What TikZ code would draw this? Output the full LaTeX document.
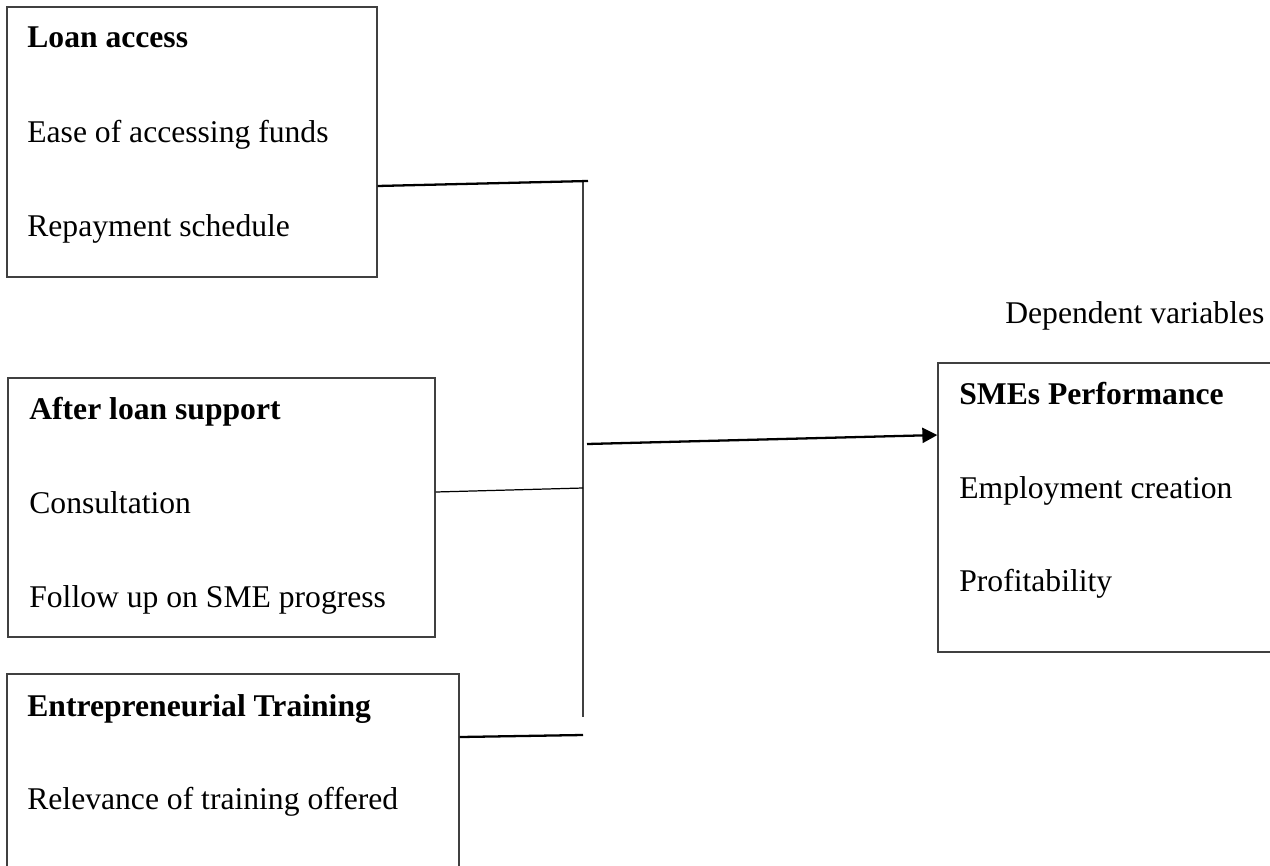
\documentclass[tikz,border=0pt]{standalone}
\usepackage{fontspec}
\setmainfont{Liberation Serif}
\usetikzlibrary{arrows.meta,positioning,calc}
\definecolor{cfInk}{HTML}{000000}
\definecolor{cfEdge}{HTML}{404040}
\tikzset{
  varbox/.style  ={draw=cfEdge,line width=0.75pt,fill=white,inner sep=0pt},
  item/.style    ={anchor=base west,inner sep=0pt,text=cfInk,
                   font=\fontsize{18}{22}\selectfont},
  head/.style    ={item,font=\fontsize{18}{22}\selectfont\bfseries},
  link/.style    ={cfInk,line width=1.3pt},
  linkthin/.style={cfInk,line width=0.7pt},
  bus/.style     ={cfEdge,line width=0.75pt},
  flow/.style    ={-{Triangle[length=3mm,width=3mm]},cfInk,line width=1.3pt},
}
\begin{document}
\begin{tikzpicture}[x=0.02cm,y=-0.02cm]
\useasboundingbox (0,0) rectangle (1270,865);
\clip (0,0) rectangle (1270,865);

%% independent variables
\node[varbox,minimum width=7.4cm,minimum height=5.4cm]   (loan)  at (192,142)   {};
\node[varbox,minimum width=8.54cm,minimum height=5.18cm] (after) at (221.5,507.5) {};
\node[varbox,minimum width=9.04cm,minimum height=4.52cm] (train) at (233,787)   {};

\node[head] (loanH)  at (27,48)  {Loan access};
\node[item] (loanA)  at (27,142) {Ease of accessing funds};
\node[item] (loanB)  at (27,236) {Repayment schedule};

\node[head] (afterH) at (29,419) {After loan support};
\node[item] (afterA) at (29,513) {Consultation};
\node[item] (afterB) at (29,607) {Follow up on SME progress};

\node[head] (trainH) at (27,716) {Entrepreneurial Training};
\node[item] (trainA) at (27,809) {Relevance of training offered};

%% dependent variable
\node[item] (depLbl) at (1005,323) {Dependent variables};
\node[varbox,minimum width=7.0cm,minimum height=5.78cm] (sme) at (1113,507.5) {};
\node[head] (smeH)   at (959,404) {SMEs Performance};
\node[item] (smeA)   at (959,498) {Employment creation};
\node[item] (smeB)   at (959,591) {Profitability};

%% joining bar
\coordinate (busTop) at (583,180);
\coordinate (busBot) at (583,717);
\coordinate (j1) at (588,181);
\coordinate (j2) at (583,488);
\coordinate (j3) at (583,735);
\coordinate (jo) at (587,444);
\draw[bus] (busTop) -- (busBot);

\draw[link]     ([yshift=-0.88cm]loan.east) -- (j1);
\draw[linkthin] ([yshift=0.31cm]after.east) -- (j2);
\draw[link]     ([yshift=1.0cm]train.east)  -- (j3);
\draw[flow]     (jo) -- ([yshift=1.45cm]sme.west);
\end{tikzpicture}
\end{document}
